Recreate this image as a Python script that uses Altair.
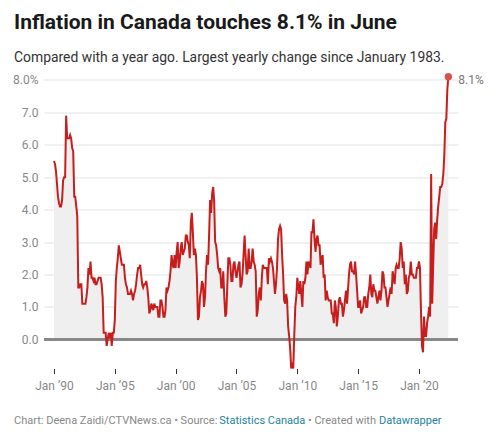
import altair as alt
import pandas as pd

# Year-over-year CPI change (%), monthly, Jan 1990 - Jun 2022
y1990 = [5.5, 5.4, 5.2, 4.8, 4.4, 4.2, 4.1, 4.1, 4.3, 4.9, 5.0, 5.0]
y1991 = [6.9, 6.2, 6.2, 6.2, 6.3, 6.2, 5.9, 5.8, 4.4, 4.4, 4.1, 3.8]
y1992 = [1.6, 1.6, 1.7, 1.7, 1.1, 1.1, 1.1, 1.1, 1.3, 1.6, 2.2, 2.0]
y1993 = [2.4, 1.9, 1.9, 1.8, 1.9, 1.7, 1.7, 1.8, 1.9, 1.9, 1.9, 1.7]
y1994 = [1.3, 0.2, 0.2, 0.2, -0.2, 0.0, 0.2, 0.1, 0.2, -0.2, 0.2, 0.2]
y1995 = [0.6, 1.8, 2.2, 2.5, 2.9, 2.7, 2.5, 2.3, 2.3, 2.3, 1.9, 1.7]
y1996 = [1.6, 1.4, 1.4, 1.4, 1.5, 1.4, 1.2, 1.4, 1.5, 1.7, 2.0, 2.2]
y1997 = [2.2, 2.3, 2.0, 1.7, 1.6, 1.7, 1.7, 1.8, 1.6, 1.3, 0.8, 0.9]
y1998 = [1.1, 1.0, 0.9, 1.1, 1.0, 1.0, 1.0, 0.7, 0.7, 1.2, 1.2, 1.0]
y1999 = [0.7, 0.7, 0.9, 1.6, 1.5, 1.6, 1.8, 2.1, 2.6, 2.3, 2.2, 2.6]
y2000 = [2.2, 2.7, 3.0, 2.2, 2.4, 2.8, 3.0, 2.6, 2.7, 2.8, 3.2, 3.2]
y2001 = [3.0, 2.9, 2.5, 3.6, 3.9, 3.3, 2.6, 2.8, 2.6, 1.9, 0.6, 0.7]
y2002 = [1.3, 1.5, 1.8, 1.7, 1.0, 1.3, 2.1, 2.6, 2.3, 3.2, 4.3, 3.9]
y2003 = [4.5, 4.7, 4.3, 3.0, 2.9, 2.6, 2.2, 2.1, 2.2, 1.6, 1.6, 2.1]
y2004 = [1.3, 0.7, 0.8, 1.7, 2.5, 2.5, 2.3, 1.8, 1.8, 2.3, 2.4, 2.1]
y2005 = [1.9, 2.1, 2.3, 2.4, 1.6, 1.7, 2.0, 2.6, 3.2, 2.6, 2.0, 2.1]
y2006 = [2.8, 2.2, 2.2, 2.4, 2.8, 2.4, 2.3, 2.1, 0.7, 0.9, 1.4, 1.6]
y2007 = [1.2, 1.9, 2.3, 2.2, 2.2, 2.2, 2.2, 1.7, 2.5, 2.4, 2.5, 2.4]
y2008 = [2.2, 1.8, 1.4, 1.7, 2.2, 3.1, 3.4, 3.5, 3.4, 2.6, 2.0, 1.2]
y2009 = [1.1, 1.4, 1.2, 0.4, 0.1, -0.3, -0.9, -0.8, -0.9, 0.1, 1.0, 1.3]
y2010 = [1.9, 1.6, 1.4, 1.8, 1.4, 1.0, 1.8, 1.7, 1.9, 2.4, 2.0, 2.4]
y2011 = [2.3, 2.2, 3.3, 3.3, 3.7, 3.1, 2.7, 3.1, 3.2, 2.9, 2.9, 2.3]
y2012 = [2.5, 2.6, 1.9, 2.0, 1.2, 1.5, 1.3, 1.2, 1.2, 1.2, 0.8, 0.8]
y2013 = [0.5, 1.2, 1.0, 0.4, 0.7, 1.2, 1.3, 1.1, 1.1, 0.7, 0.9, 1.2]
y2014 = [1.5, 1.1, 1.5, 2.0, 2.3, 2.4, 2.1, 2.1, 2.0, 2.4, 2.0, 1.5]
y2015 = [1.0, 1.0, 1.2, 0.8, 0.9, 1.0, 1.3, 1.3, 1.0, 1.0, 1.4, 1.6]
y2016 = [2.0, 1.4, 1.3, 1.7, 1.5, 1.5, 1.3, 1.1, 1.3, 1.5, 1.2, 1.5]
y2017 = [2.1, 2.0, 1.6, 1.6, 1.3, 1.0, 1.2, 1.4, 1.6, 1.4, 2.1, 1.9]
y2018 = [1.7, 2.2, 2.3, 2.2, 2.2, 2.5, 3.0, 2.8, 2.2, 2.4, 1.7, 2.0]
y2019 = [1.4, 1.5, 1.9, 2.0, 2.4, 2.0, 2.0, 1.9, 1.9, 1.9, 2.2, 2.2]
y2020 = [2.4, 2.2, 0.9, -0.2, -0.4, 0.7, 0.1, 0.1, 0.5, 0.7, 1.0, 0.7]
y2021 = [5.1, 1.1, 2.2, 3.4, 3.6, 3.1, 3.7, 4.1, 4.4, 4.7, 4.7, 4.8]
y2022 = [5.1, 5.7, 6.7, 6.8, 7.7, 8.1]

series = [y1990, y1991, y1992, y1993, y1994, y1995, y1996, y1997, y1998, y1999,
          y2000, y2001, y2002, y2003, y2004, y2005, y2006, y2007, y2008, y2009,
          y2010, y2011, y2012, y2013, y2014, y2015, y2016, y2017, y2018, y2019,
          y2020, y2021, y2022]
start_year = 1990

tick_years = [1990, 1995, 2000, 2005, 2010, 2015, 2020]
y_ticks = [0, 1, 2, 3, 4, 5, 6, 7, 8]

title_text = "Inflation in Canada touches 8.1% in June"
subtitle_text = "Compared with a year ago. Largest yearly change since January 1983."
footer_parts = ["Chart: Deena Zaidi/CTVNews.ca \u2022 Source:", "Statistics Canada",
                "\u2022 Created with", "Datawrapper"]

rows = []
for i, vals in enumerate(series):
    for m, v in enumerate(vals):
        rows.append({"date": pd.Timestamp(year=start_year + i, month=m + 1, day=1), "value": v})
df = pd.DataFrame(rows)
last = df.tail(1).copy()
last["label"] = last["value"].map(lambda v: f"{v:.1f}%")

RED = "#c71e1d"
GRAY = "#888888"
FONT = "Roboto"

xscale = alt.Scale(domain=[alt.DateTime(year=1989, month=3, date=7),
                           alt.DateTime(year=2023, month=3, date=18)])
yscale = alt.Scale(domain=[-0.9, 8.2], nice=False, zero=False)

xaxis = alt.Axis(values=[alt.DateTime(year=y, month=1, date=1) for y in tick_years],
                 labelExpr="'Jan \u2019' + timeFormat(datum.value, '%y')",
                 title=None, grid=False, domain=False, tickSize=5, tickColor="#333333",
                 labelColor=GRAY, labelFontSize=12, labelFont=FONT, labelPadding=7,
                 labelOverlap=False)
yaxis = alt.Axis(values=y_ticks, title=None, grid=True, gridColor="#e3e3e3",
                 domain=False, ticks=False, labelColor=GRAY, labelFontSize=12,
                 labelFont=FONT, labelPadding=6, labelBaseline="middle",
                 labelOverlap=False, tickCount=9,
                 labelExpr="datum.value == 8 ? '8.0%' : format(datum.value, '.1f')")

X = alt.X("date:T", scale=xscale, axis=xaxis)
Y = alt.Y("value:Q", scale=yscale, axis=yaxis)

base = alt.Chart(df)
area = base.mark_area(color="#efefef", opacity=1).encode(x=X, y=Y, y2=alt.datum(0))
zero = alt.Chart(df).mark_rule(color="#888888", strokeWidth=2).encode(y=alt.datum(0))
line = base.mark_line(color=RED, strokeWidth=2).encode(x=X, y=Y)
dot = alt.Chart(last).mark_circle(color="#dd5050", opacity=1, size=55).encode(x=X, y=Y)
dot_label = alt.Chart(last).mark_text(align="left", baseline="middle", dx=10, dy=3,
                                      fontSize=12, font=FONT, color="#777777").encode(
    x=X, y=Y, text="label:N")

def text_layer(txt, x, y, size, color, weight="normal"):
    return alt.Chart(pd.DataFrame({"t": [txt]})).mark_text(
        align="left", baseline="alphabetic", fontSize=size, font=FONT,
        fontWeight=weight, color=color).encode(
        text="t:N", x=alt.value(x), y=alt.value(y))

title = text_layer(title_text, -30, -44.5, 21, "#1a1a1a", "bold")
subtitle = text_layer(subtitle_text, -30, -12, 13.9, "#333333")
f1 = text_layer(footer_parts[0], -30, 350.2, 11, GRAY)
f2 = text_layer(footer_parts[1], 175.3, 350.2, 11, "#1d81a2")
f3 = text_layer(footer_parts[2], 264, 350.2, 11, GRAY)
f4 = text_layer(footer_parts[3], 335, 350.2, 11, "#1d81a2")

chart = alt.layer(area, zero, line, dot, dot_label, title, subtitle, f1, f2, f3, f4).properties(
    width=414, height=295,
    padding={"left": 44, "top": 73.5, "right": 39, "bottom": 70.5},
    autosize=alt.AutoSizeParams(type="none"),
    background="white",
).configure_view(stroke=None)

chart.save("out.html", embed_options={"renderer": "svg", "actions": False})
